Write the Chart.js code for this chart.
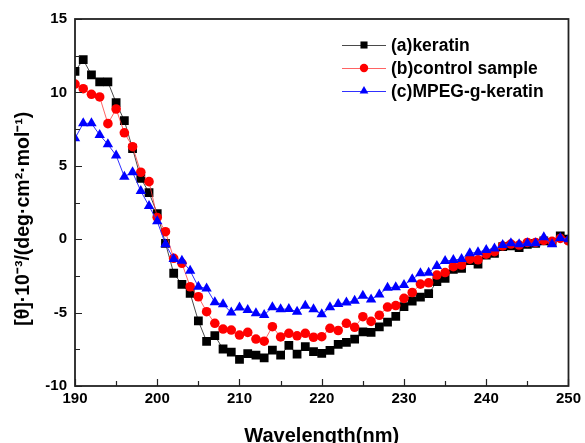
<!DOCTYPE html>
<html>
<head>
<meta charset="utf-8">
<script src="https://cdn.jsdelivr.net/npm/chart.js@4"></script>
<style>
  html, body { margin: 0; padding: 0; background: #fff; }
</style>
</head>
<body>
<canvas id="cdChart" width="585" height="443"></canvas>
<script>
// wavelength (nm), one point per nm
var wavelength = [190, 191, 192, 193, 194, 195, 196, 197, 198, 199,
  200, 201, 202, 203, 204, 205, 206, 207, 208, 209,
  210, 211, 212, 213, 214, 215, 216, 217, 218, 219,
  220, 221, 222, 223, 224, 225, 226, 227, 228, 229,
  230, 231, 232, 233, 234, 235, 236, 237, 238, 239,
  240, 241, 242, 243, 244, 245, 246, 247, 248, 249, 250];

var keratin = [11.44, 12.23, 11.19, 10.71, 10.71, 9.30, 8.07, 6.17, 4.15, 3.17,
  1.75, -0.28, -2.32, -3.07, -3.69, -5.57, -6.96, -6.57, -7.48, -7.70,
  -8.18, -7.80, -7.90, -8.08, -7.55, -7.90, -7.23, -7.83, -7.32, -7.66,
  -7.77, -7.57, -7.17, -7.03, -6.80, -6.32, -6.35, -5.98, -5.65, -5.25,
  -4.60, -4.21, -3.94, -3.71, -2.89, -2.66, -2.05, -1.98, -1.46, -1.69,
  -1.08, -0.96, -0.51, -0.46, -0.58, -0.35, -0.28, -0.12, -0.24, 0.22, 0.0];

var controlSample = [10.57, 10.25, 9.87, 9.69, 7.87, 8.87, 7.25, 6.30, 4.56, 3.92,
  1.48, 0.51, -1.30, -1.64, -3.24, -3.92, -4.94, -5.73, -6.12, -6.19,
  -6.53, -6.35, -6.80, -6.95, -5.96, -6.66, -6.41, -6.58, -6.41, -6.68,
  -6.64, -6.07, -6.22, -5.73, -6.00, -5.28, -5.60, -5.18, -4.62, -4.52,
  -4.03, -3.63, -3.06, -2.97, -2.44, -2.27, -1.87, -1.76, -1.36, -1.40,
  -1.02, -0.85, -0.46, -0.33, -0.40, -0.22, -0.22, -0.08, -0.15, 0.05, -0.12];

var mpegKeratin = [6.87, 7.89, 7.89, 7.10, 6.46, 5.71, 4.26, 4.56, 3.28, 2.26,
  1.22, -0.35, -1.35, -1.46, -2.15, -3.24, -3.35, -4.30, -4.43, -5.00,
  -4.66, -4.82, -5.05, -5.16, -4.64, -4.78, -4.75, -4.94, -4.53, -4.78,
  -5.12, -4.64, -4.41, -4.32, -4.19, -3.85, -4.10, -3.76, -3.30, -3.27,
  -3.12, -2.73, -2.32, -2.28, -1.83, -1.49, -1.42, -1.35, -0.96, -0.89,
  -0.74, -0.63, -0.40, -0.28, -0.35, -0.28, -0.28, 0.13, -0.35, 0.08, 0.0];

var seriesNames = ["(a)keratin", "(b)control sample", "(c)MPEG-g-keratin"];
var xTickLabels = [190, 200, 210, 220, 230, 240, 250];
var yTickLabels = [-10, -5, 0, 5, 10, 15];

var FONT = "'Liberation Sans', Arial, sans-serif";

function toPoints(ys) {
  return wavelength.map(function (w, i) {
    return { x: w, y: ys[i] };
  });
}

// frame plus inward major/minor ticks
var frameTicks = {
  id: "frameTicks",
  afterDraw: function (chart) {
    var ctx = chart.ctx;
    var a = chart.chartArea;
    var xs = chart.scales.x;
    var ys = chart.scales.y;
    ctx.save();
    ctx.strokeStyle = "#222";
    ctx.lineWidth = 1.2;
    ctx.beginPath();
    var v, p, len;
    for (v = 190; v <= 250; v += 5) {
      p = Math.round(xs.getPixelForValue(v)) + 0.5;
      len = xTickLabels.indexOf(v) >= 0 ? 7 : 5;
      ctx.moveTo(p, a.bottom);
      ctx.lineTo(p, a.bottom - len);
    }
    for (v = -10; v <= 15; v += 2.5) {
      p = Math.round(ys.getPixelForValue(v)) + 0.5;
      len = yTickLabels.indexOf(v) >= 0 ? 7 : 5;
      ctx.moveTo(a.left, p);
      ctx.lineTo(a.left + len, p);
    }
    ctx.stroke();
    ctx.lineWidth = 1.8;
    ctx.strokeRect(a.left, a.top, a.right - a.left, a.bottom - a.top);
    ctx.restore();
  }
};

// legend with line + marker sample, top right inside the plot
var innerLegend = {
  id: "innerLegend",
  afterDraw: function (chart) {
    var ctx = chart.ctx;
    ctx.save();
    chart.data.datasets.forEach(function (ds, i) {
      var y = 45 + i * 23;
      ctx.strokeStyle = ds.borderColor;
      ctx.lineWidth = 1;
      ctx.beginPath();
      ctx.moveTo(342, y + 0.5);
      ctx.lineTo(386, y + 0.5);
      ctx.stroke();
      ctx.fillStyle = ds.pointBackgroundColor;
      Chart.helpers.drawPoint(ctx, {
        pointStyle: ds.pointStyle,
        radius: ds.legendRadius,
        rotation: 0,
        borderWidth: 0
      }, 364, y);
      ctx.fillStyle = "#000";
      ctx.font = "bold 17.5px " + FONT;
      ctx.textBaseline = "middle";
      ctx.textAlign = "left";
      ctx.fillText(ds.label, 391, y + 1);
    });
    ctx.restore();
  }
};

var ctx = document.getElementById("cdChart");

var chart = new Chart(ctx, {
  type: "line",
  data: {
    datasets: [
      {
        label: seriesNames[0],
        data: toPoints(keratin),
        borderColor: "#4a4a4a",
        borderWidth: 1,
        pointStyle: "rect",
        pointRadius: 6.2,
        legendRadius: 5,
        pointBackgroundColor: "#000",
        pointBorderColor: "#000",
        pointBorderWidth: 0,
        order: 2
      },
      {
        label: seriesNames[1],
        data: toPoints(controlSample),
        borderColor: "rgba(255,60,60,0.8)",
        borderWidth: 1,
        pointStyle: "circle",
        pointRadius: 4.8,
        legendRadius: 4.2,
        pointBackgroundColor: "#ff0000",
        pointBorderColor: "#ff0000",
        pointBorderWidth: 0,
        order: 1
      },
      {
        label: seriesNames[2],
        data: toPoints(mpegKeratin),
        borderColor: "#3030ff",
        borderWidth: 1,
        pointStyle: "triangle",
        pointRadius: 6,
        legendRadius: 5,
        pointBackgroundColor: "#0000ff",
        pointBorderColor: "#0000ff",
        pointBorderWidth: 0,
        order: 0
      }
    ]
  },
  options: {
    responsive: false,
    animation: false,
    // bottom padding below zero lets the axis title sit low, partly cut off like the original
    layout: { padding: { left: 0, right: 13, top: 19, bottom: -5 } },
    plugins: {
      legend: { display: false },
      tooltip: { enabled: false }
    },
    scales: {
      x: {
        type: "linear",
        min: 190,
        max: 250,
        afterFit: function (scale) { scale.height = 62; },
        afterBuildTicks: function (scale) {
          scale.ticks = xTickLabels.map(function (v) { return { value: v }; });
        },
        grid: { display: false, drawTicks: false },
        border: { display: false },
        ticks: {
          padding: 4,
          color: "#000",
          font: { family: FONT, size: 15, weight: "bold" }
        },
        title: {
          display: true,
          text: "Wavelength(nm)",
          color: "#000",
          padding: { top: 0, bottom: 0 },
          font: { family: FONT, size: 20, weight: "bold" }
        }
      },
      y: {
        type: "linear",
        min: -10,
        max: 15,
        afterFit: function (scale) { scale.width = 75; },
        afterBuildTicks: function (scale) {
          scale.ticks = yTickLabels.map(function (v) { return { value: v }; });
        },
        grid: { display: false, drawTicks: false },
        border: { display: false },
        ticks: {
          padding: 8,
          color: "#000",
          font: { family: FONT, size: 15, weight: "bold" }
        },
        title: {
          display: true,
          // trailing spaces push the visible title down a little, as in the original
          text: "[\u03b8]\u00b710\u207b\u00b3/(deg\u00b7cm\u00b2\u00b7mol\u207b\u00b9)      ",
          color: "#000",
          padding: { top: 12, bottom: 0 },
          font: { family: FONT, size: 19.5, weight: "bold" }
        }
      }
    }
  },
  plugins: [frameTicks, innerLegend]
});
</script>
</body>
</html>
